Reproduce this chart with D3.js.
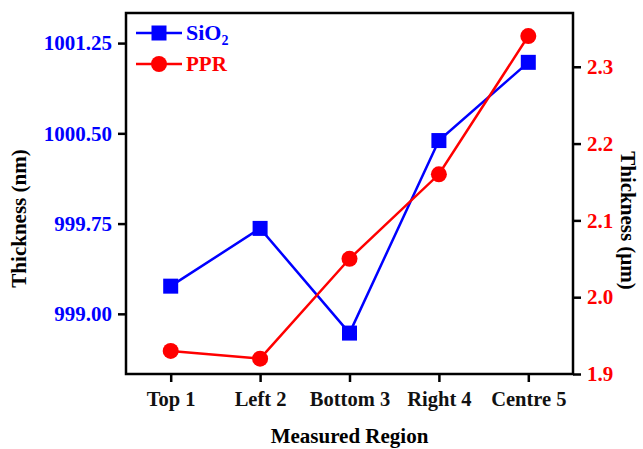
<!DOCTYPE html>
<html>
<head>
<meta charset="utf-8">
<script src="https://cdn.jsdelivr.net/npm/d3@7"></script>
<style>
  body { margin: 0; background: #fff; }
  text { font-family: "Liberation Serif", "Times New Roman", serif; font-weight: bold; }
</style>
</head>
<body>
<svg id="chart" width="643" height="449"></svg>
<script>
const regions = ["Top 1", "Left 2", "Bottom 3", "Right 4", "Centre 5"];
const sio2 = [999.23, 999.71, 998.84, 1000.44, 1001.09];
const ppr = [1.93, 1.92, 2.05, 2.16, 2.34];
const leftTicks = [999.00, 999.75, 1000.50, 1001.25];
const rightTicks = [1.9, 2.0, 2.1, 2.2, 2.3];

const blue = "#0000ff", red = "#ff0000";
const margin = {top: 13, right: 70, bottom: 75, left: 126};
const width = 643 - margin.left - margin.right;
const height = 449 - margin.top - margin.bottom;

const svg = d3.select("#chart");
const g = svg.append("g").attr("transform", `translate(${margin.left},${margin.top})`);

const x = d3.scaleLinear().domain([0.5, regions.length + 0.5]).range([0, width]);
const yL = d3.scaleLinear().domain([998.5, 1001.5]).range([height, 0]);
const yR = d3.scaleLinear().domain([1.9, 2.37]).range([height, 0]);

// frame
g.append("rect")
  .attr("width", width).attr("height", height)
  .attr("fill", "none").attr("stroke", "#000").attr("stroke-width", 2.5);

const styleAxis = (sel, color, size) => {
  sel.select(".domain").remove();
  sel.selectAll(".tick line").attr("stroke", "#000").attr("stroke-width", 2.5);
  sel.selectAll(".tick text")
    .attr("fill", color)
    .style("font-size", size + "px");
};

g.append("g")
  .call(d3.axisLeft(yL).tickValues(leftTicks).tickFormat(d3.format(".2f")).tickSize(8).tickPadding(6))
  .call(s => styleAxis(s, blue, 21));

g.append("g")
  .attr("transform", `translate(${width},0)`)
  .call(d3.axisRight(yR).tickValues(rightTicks).tickFormat(d3.format(".1f")).tickSize(8).tickPadding(6))
  .call(s => styleAxis(s, red, 21));

g.append("g")
  .attr("transform", `translate(0,${height})`)
  .call(d3.axisBottom(x).tickValues(d3.range(1, regions.length + 1)).tickFormat(i => regions[i - 1]).tickSize(8).tickPadding(9))
  .call(s => styleAxis(s, "#111", 20.5));

// axis titles
g.append("text")
  .attr("x", width / 2).attr("y", height + 69)
  .attr("text-anchor", "middle")
  .style("font-size", "21px")
  .text("Measured Region");

g.append("text")
  .attr("transform", `translate(${-100},${height / 2 + 25}) rotate(-90)`)
  .attr("text-anchor", "middle")
  .style("font-size", "21px")
  .text("Thickness (nm)");

g.append("text")
  .attr("transform", `translate(${width + 48},${height / 2 + 27}) rotate(90)`)
  .attr("text-anchor", "middle")
  .style("font-size", "21px")
  .text("Thickness (μm)");

// series
const lineL = d3.line().x((d, i) => x(i + 1)).y(d => yL(d));
const lineR = d3.line().x((d, i) => x(i + 1)).y(d => yR(d));

g.append("path").datum(sio2)
  .attr("d", lineL).attr("fill", "none").attr("stroke", blue).attr("stroke-width", 2.5);
g.append("path").datum(ppr)
  .attr("d", lineR).attr("fill", "none").attr("stroke", red).attr("stroke-width", 2.5);

const sq = 15;
g.selectAll(".sq").data(sio2).enter().append("rect")
  .attr("x", (d, i) => x(i + 1) - sq / 2)
  .attr("y", d => yL(d) - sq / 2)
  .attr("width", sq).attr("height", sq)
  .attr("fill", blue);

g.selectAll(".dot").data(ppr).enter().append("circle")
  .attr("cx", (d, i) => x(i + 1))
  .attr("cy", d => yR(d))
  .attr("r", 8)
  .attr("fill", red);

// legend
const legend = g.append("g").attr("transform", "translate(10,20)");
legend.append("line").attr("x1", 0).attr("x2", 46).attr("y1", 0).attr("y2", 0)
  .attr("stroke", blue).attr("stroke-width", 2.5);
legend.append("rect").attr("x", 23 - sq / 2).attr("y", -sq / 2).attr("width", sq).attr("height", sq).attr("fill", blue);
const t1 = legend.append("text").attr("x", 50).attr("y", 7).attr("fill", blue).style("font-size", "22px");
t1.append("tspan").text("SiO");
t1.append("tspan").attr("dy", 5).style("font-size", "14px").text("2");

legend.append("line").attr("x1", 0).attr("x2", 46).attr("y1", 31).attr("y2", 31)
  .attr("stroke", red).attr("stroke-width", 2.5);
legend.append("circle").attr("cx", 23).attr("cy", 31).attr("r", 8).attr("fill", red);
legend.append("text").attr("x", 50).attr("y", 38).attr("fill", red).style("font-size", "21px").text("PPR");
</script>
</body>
</html>
